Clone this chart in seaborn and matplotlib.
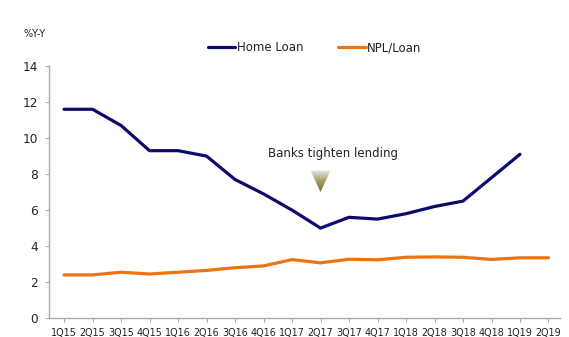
import numpy as np
import pandas as pd
import matplotlib
matplotlib.use("Agg")
import matplotlib.pyplot as plt
import seaborn as sns
from matplotlib.patches import Polygon
from matplotlib.colors import LinearSegmentedColormap

quarters = ["1Q15", "2Q15", "3Q15", "4Q15", "1Q16", "2Q16", "3Q16", "4Q16", "1Q17",
            "2Q17", "3Q17", "4Q17", "1Q18", "2Q18", "3Q18", "4Q18", "1Q19", "2Q19"]
home_loan = [11.6, 11.6, 10.7, 9.3, 9.3, 9.0, 7.7, 6.9, 6.0,
             5.0, 5.6, 5.5, 5.8, 6.2, 6.5, 7.8, 9.1, np.nan]
npl_loan = [2.4, 2.4, 2.55, 2.45, 2.55, 2.65, 2.8, 2.9, 3.25,
            3.07, 3.27, 3.24, 3.38, 3.4, 3.38, 3.26, 3.35, 3.35]
annotation = "Banks tighten lending"

sns.set_style("white")
plt.rcParams['font.family'] = ['DejaVu Sans']

df = pd.DataFrame({"pos": np.arange(len(quarters)), "Home Loan": home_loan, "NPL/Loan": npl_loan})

fig = plt.figure(figsize=(5.69, 3.37), dpi=100)
ax = fig.add_axes([0.086, 0.056, 0.898, 0.748])

sns.lineplot(data=df, x="pos", y="Home Loan", ax=ax, color="#0b0b6b", lw=2.3, label="Home Loan")
sns.lineplot(data=df, x="pos", y="NPL/Loan", ax=ax, color="#ec7512", lw=2.3, label="NPL/Loan")

ax.set_xlim(-0.53, 17.4)
ax.set_ylim(0, 14)
ax.set_yticks(range(0, 15, 2))
ax.set_xticks(np.arange(len(quarters)))
ax.set_xticklabels(quarters, fontsize=6.9, color="#222222")
ax.tick_params(axis='y', labelsize=8.7, length=3, width=0.8, color="#aaaaaa", direction='out', left=True, pad=5, labelcolor="#222222")
ax.tick_params(axis='x', length=3, width=0.8, color="#aaaaaa", direction='out', bottom=True, pad=4)
ax.set_xlabel("")
ax.set_ylabel("")
for s in ["top", "right"]:
    ax.spines[s].set_visible(False)
for s in ["left", "bottom"]:
    ax.spines[s].set_color("#aaaaaa")
    ax.spines[s].set_linewidth(1.0)

leg = ax.legend(loc="center", bbox_to_anchor=(0.553, 0.858), bbox_transform=fig.transFigure,
                ncol=2, frameon=False, fontsize=8.5, handlelength=2.3, handletextpad=0.15,
                columnspacing=3.0, labelcolor="#222222")

fig.text(0.042, 0.9, "%Y-Y", fontsize=7, color="#222222", va="center")

ax.text(9.45, 8.8, annotation, ha="center", va="bottom", fontsize=8.5, color="#222222")

# gradient triangle
cx = 9
tri = Polygon([[cx - 0.35, 8.2], [cx + 0.35, 8.2], [cx, 7.0]], closed=True, facecolor="none", edgecolor="none")
ax.add_patch(tri)
cmap = LinearSegmentedColormap.from_list("g", ["#e4e8f0", "#a89a5a", "#7d7035"])
grad = np.linspace(0, 1, 100).reshape(-1, 1)
im = ax.imshow(grad, extent=[cx - 0.35, cx + 0.35, 7.0, 8.2], origin="upper", cmap=cmap, aspect="auto", zorder=3)
im.set_clip_path(tri)
ax.set_xlim(-0.53, 17.4)
ax.set_ylim(0, 14)

fig.savefig("out.png", dpi=100)
